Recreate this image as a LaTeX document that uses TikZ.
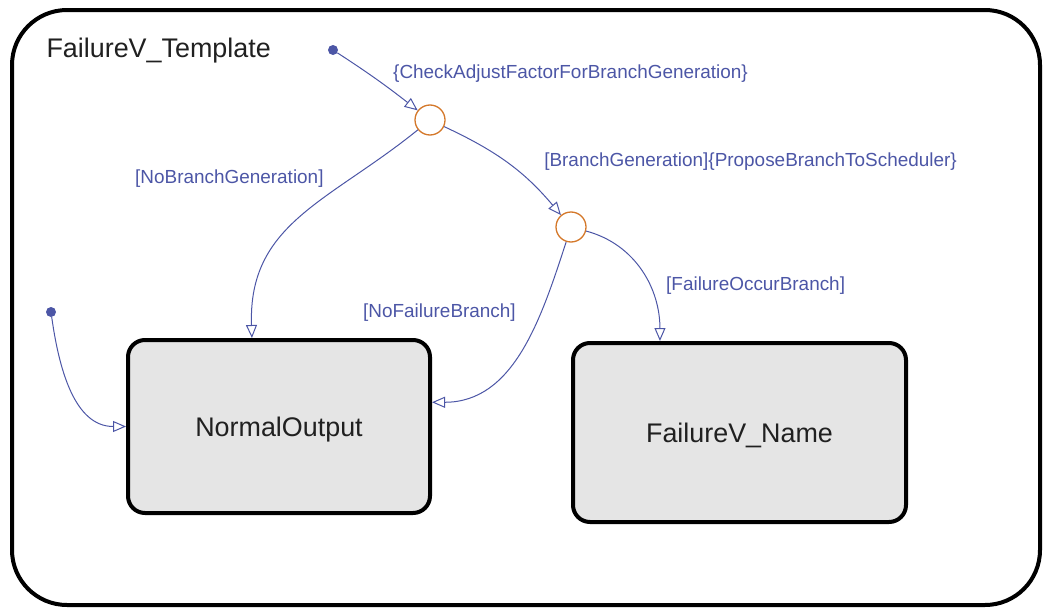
\documentclass[tikz,border=0pt]{standalone}
\usepackage{fontspec}
\setmainfont{Liberation Sans}
\usepackage{tikz}
\usetikzlibrary{arrows.meta,shapes}
\definecolor{sfblue}{RGB}{76,86,166}
\definecolor{sforange}{RGB}{212,120,42}
\definecolor{sfgray}{RGB}{229,229,229}
\definecolor{sftext}{RGB}{32,32,32}

\begin{document}
\begin{tikzpicture}[
  chartstate/.style={draw=black,line width=4bp,rounded corners=17bp,fill=sfgray,text=sftext,
    font=\fontsize{27}{32}\selectfont,text height=19.5bp,text depth=0bp,inner sep=0pt},
  junction/.style={draw=sforange,line width=1.3bp,circle,minimum size=30bp,inner sep=0pt},
  entry/.style={circle,fill=sfblue,minimum size=10bp,inner sep=0pt},
  trans/.style={draw=sfblue,line width=1bp,-{Triangle[open,length=13bp,width=11bp]}},
  guard/.style={text=sfblue,font=\fontsize{19}{23}\selectfont,inner sep=0pt}
]
\useasboundingbox (0bp,0bp) rectangle (1044bp,-608bp);
% Chart

\draw [line width=4bp,rounded corners=55bp] (12bp,-10bp) rectangle (1040bp,-605bp);
\node (title) at (43bp,-57bp)[anchor=base west,text=sftext,font=\fontsize{27}{32}\selectfont] {FailureV\_Template};
\node (NO) at (279bp,-426.5bp)[chartstate,minimum width=302bp,minimum height=173bp] {NormalOutput};
\node (FN) at (739.5bp,-432.5bp)[chartstate,minimum width=333bp,minimum height=179bp] {FailureV\_Name};
\node (J1) at (430bp,-120bp)[junction] {};
\node (J2) at (571bp,-227bp)[junction] {};
\node (E1) at (333bp,-50bp)[entry] {};
\node (E2) at (51bp,-312bp)[entry] {};
\draw [trans] (E1) to[out=-33,in=142] (J1);
\draw [trans] (J1) to[out=219,in=92,looseness=1.1] (NO.107);
\draw [trans] (J1) to[out=-25,in=130] (J2);
\draw [trans] (J2) to[out=252,in=0] (NO.9);
\draw [trans] (J2) to[out=-15,in=90] (FN.131);
\draw [trans] (E2) to[out=-82,in=180] (NO.west);
\node (gCheck) at (393bp,-78bp)[guard,anchor=base west] {\{CheckAdjustFactorForBranchGeneration\}};
\node (gNoBranch) at (135bp,-183bp)[guard,anchor=base west] {[NoBranchGeneration]};
\node (gBranch) at (957bp,-166bp)[guard,anchor=base east] {[BranchGeneration]\{ProposeBranchToScheduler\}};
\node (gNoFail) at (363bp,-317bp)[guard,anchor=base west] {[NoFailureBranch]};
\node (gFail) at (666bp,-290bp)[guard,anchor=base west] {[FailureOccurBranch]};

\end{tikzpicture}
\end{document}
